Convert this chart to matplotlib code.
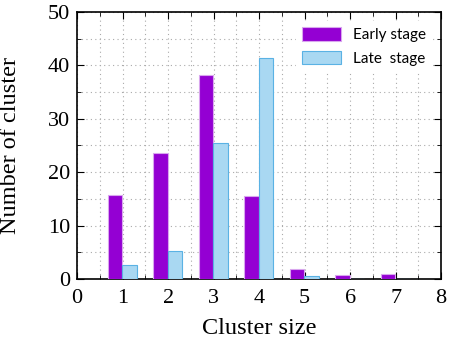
import numpy as np
import matplotlib.pyplot as plt
from matplotlib.ticker import MultipleLocator

sizes = [1, 2, 3, 4, 5, 6, 7]
early = [15.8, 23.5, 38.1, 15.6, 1.9, 0.8, 0.9]
late = [2.7, 5.3, 25.4, 41.4, 0.55, 0, 0]

plt.rcParams['font.family'] = ['Liberation Serif']

fig = plt.figure(figsize=(4.51, 3.41), dpi=100)
ax = fig.add_axes([0.171, 0.182, 0.807, 0.783])

x = np.array(sizes)
w = 0.32
ax.bar(x - 0.17, early, w, color='#9400d3', edgecolor='#d9a6ee', linewidth=0.8,
       label='Early stage', zorder=3)
ax.bar(x + 0.15, late, w, color='#a9d8f2', edgecolor='#5ab2e4', linewidth=0.8,
       label='Late  stage', zorder=3)

ax.set_xlim(0, 8)
ax.set_ylim(0, 50)
ax.xaxis.set_major_locator(MultipleLocator(1))
ax.xaxis.set_minor_locator(MultipleLocator(0.5))
ax.yaxis.set_major_locator(MultipleLocator(10))
ax.yaxis.set_minor_locator(MultipleLocator(5))
ax.tick_params(which='both', direction='in', top=True, right=True, labelsize=16)
ax.tick_params(which='major', length=5)
ax.tick_params(which='minor', length=3)
ax.tick_params(axis='x', pad=7)
ax.tick_params(axis='y', pad=5)
ax.grid(which='both', linestyle=(0, (1, 3)), color='#aaaaaa', linewidth=0.8, zorder=0)
for s in ax.spines.values():
    s.set_linewidth(1.2)

ax.set_xlabel('Cluster size', fontsize=17.5)
ax.set_ylabel('Number of cluster', fontsize=17.5)
ax.yaxis.set_label_coords(-0.155, 0.5)
ax.xaxis.set_label_coords(0.5, -0.145)

leg = ax.legend(loc='upper right', frameon=True, framealpha=1, edgecolor='none',
                fancybox=False, prop={'family': 'Lato', 'size': 11},
                handlelength=2.5, handleheight=1.0, borderaxespad=0.6,
                labelspacing=0.55)
leg.set_zorder(5)

fig.savefig('out.png', dpi=100)
